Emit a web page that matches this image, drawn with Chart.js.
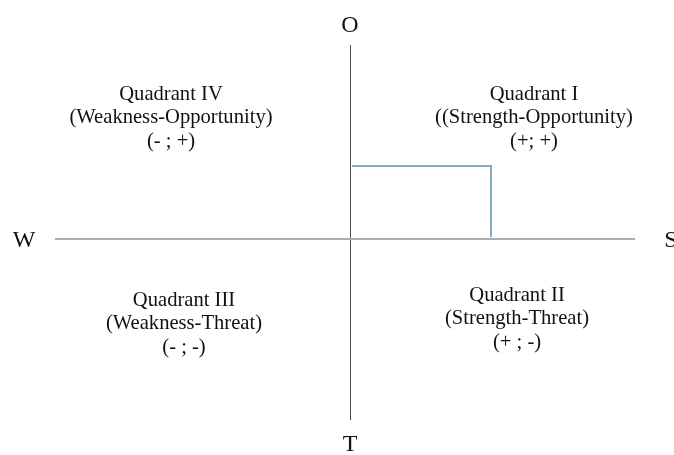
<!DOCTYPE html>
<html>
<head>
<meta charset="utf-8">
<script src="https://cdn.jsdelivr.net/npm/chart.js@4"></script>
<style>
  html, body { margin: 0; padding: 0; background: #fff; }
  canvas { display: block; }
</style>
</head>
<body>
<canvas id="c" width="674" height="455"></canvas>
<script>
// ---- Data ----
const axisNames = ['S', 'W', 'O', 'T'];            // right, left, top, bottom
const strengthWeaknessRange = [-2.95, 2.85];        // horizontal axis extent (W .. S)
const opportunityThreatRange = [-1.81, 1.94];       // vertical axis extent (T .. O)
const strategyX = 1.41;                              // internal score (S - W)
const strategyY = 0.73;                              // external score (O - T)
const quadrantNames = ['Quadrant I', 'Quadrant II', 'Quadrant III', 'Quadrant IV'];
const quadrantSubtitles = ['((Strength-Opportunity)', '(Strength-Threat)', '(Weakness-Threat)', '(Weakness-Opportunity)'];
const quadrantSigns = ['(+; +)', '(+ ; -)', '(- ; -)', '(- ; +)'];

// ---- Layout (label anchors in axis units) ----
const quadrantAnchors = [
  { x: 1.84, y: 1.21 },
  { x: 1.67, y: -0.80 },
  { x: -1.66, y: -0.85 },
  { x: -1.79, y: 1.21 }
];
const axisNameAnchors = [
  { x: 3.21, y: -0.02 },
  { x: -3.26, y: -0.02 },
  { x: 0.0, y: 2.13 },
  { x: 0.0, y: -2.06 }
];

const textPlugin = {
  id: 'swotText',
  afterDraw(chart) {
    const { ctx, scales } = chart;
    const xs = scales.x, ys = scales.y;
    ctx.save();
    ctx.fillStyle = '#111';
    ctx.textAlign = 'center';
    ctx.textBaseline = 'middle';
    ctx.font = '20.6px "Liberation Serif", "Times New Roman", serif';
    quadrantNames.forEach((name, i) => {
      const px = xs.getPixelForValue(quadrantAnchors[i].x);
      const py = ys.getPixelForValue(quadrantAnchors[i].y);
      ctx.fillText(name, px, py - 23.5);
      ctx.fillText(quadrantSubtitles[i], px, py);
      ctx.fillText(quadrantSigns[i], px, py + 24);
    });
    ctx.font = '24px "Liberation Serif", "Times New Roman", serif';
    axisNames.forEach((n, i) => {
      ctx.fillText(n, xs.getPixelForValue(axisNameAnchors[i].x), ys.getPixelForValue(axisNameAnchors[i].y));
    });
    ctx.restore();
  }
};

new Chart(document.getElementById('c'), {
  type: 'scatter',
  data: {
    datasets: [
      {
        label: 'Strength-Weakness axis',
        data: [{ x: strengthWeaknessRange[0], y: 0 }, { x: strengthWeaknessRange[1], y: 0 }],
        showLine: true, borderColor: '#ababab', borderWidth: 2, pointRadius: 0
      },
      {
        label: 'Opportunity-Threat axis',
        data: [{ x: 0.005, y: opportunityThreatRange[1] }, { x: 0.005, y: opportunityThreatRange[0] }],
        showLine: true, borderColor: '#4a4a4a', borderWidth: 1, pointRadius: 0
      },
      {
        label: 'Strategy position',
        data: [{ x: 0.02, y: strategyY }, { x: strategyX, y: strategyY }, { x: strategyX, y: 0.02 }],
        showLine: true, borderColor: '#84abc3', borderWidth: 2, pointRadius: 0, tension: 0
      }
    ]
  },
  options: {
    responsive: false,
    animation: false,
    devicePixelRatio: 1,
    layout: { padding: 0 },
    plugins: { legend: { display: false }, tooltip: { enabled: false } },
    scales: {
      x: { type: 'linear', min: -3.5, max: 3.24, display: false },
      y: { type: 'linear', min: -2.16, max: 2.39, display: false }
    }
  },
  plugins: [textPlugin]
});
</script>
</body>
</html>
